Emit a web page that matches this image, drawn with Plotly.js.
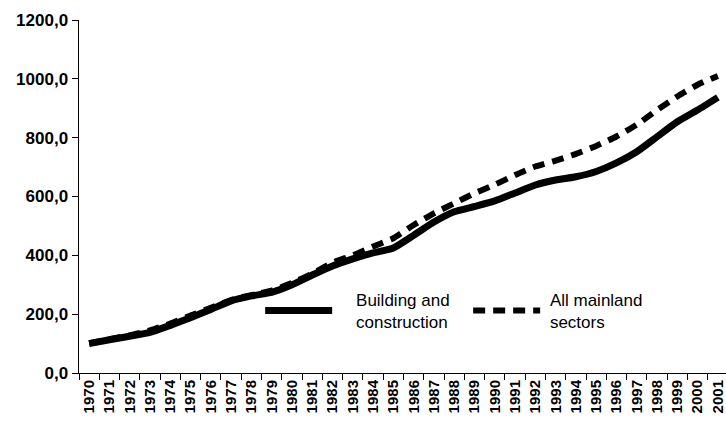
<!DOCTYPE html>
<html>
<head>
<meta charset="utf-8">
<script src="https://cdn.plot.ly/plotly-3.0.1.min.js"></script>
<style>html,body{margin:0;padding:0;background:#fff;}#chart{width:726px;height:423px;}</style>
</head>
<body>
<div id="chart"></div>
<script>
var years = ["1970","1971","1972","1973","1974","1975","1976","1977","1978","1979","1980","1981","1982","1983","1984","1985","1986","1987","1988","1989","1990","1991","1992","1993","1994","1995","1996","1997","1998","1999","2000","2001"];
var building = [100,113,125,138,162,188,216,245,262,274,300,333,364,388,408,425,468,513,548,566,585,612,639,656,667,685,714,752,803,854,894,937];
var mainland = [101,115,128,145,168,195,222,248,265,280,306,338,375,400,430,458,503,543,577,611,640,673,702,722,745,772,804,844,894,940,980,1010];
var yTicks = [0,200,400,600,800,1000,1200];
var pad = '\u00a0\u00a0\u00a0\u00a0';
var pad2 = '\u00a0';

var traces = [
  {x: years, y: building, type: 'scatter', mode: 'lines', name: pad + 'Building and<br>' + pad + 'construction',
   line: {color: '#000', width: 7, shape: 'spline', smoothing: 0.5}},
  {x: years, y: mainland, type: 'scatter', mode: 'lines', name: pad2 + 'All mainland<br>' + pad2 + 'sectors',
   line: {color: '#000', width: 6, dash: '12px,8px', shape: 'spline', smoothing: 0.5}}
];

var layout = {
  width: 726, height: 423,
  margin: {l: 79, r: 0, t: 20, b: 50},
  paper_bgcolor: '#fff', plot_bgcolor: '#fff',
  separators: ',.',
  font: {family: 'Liberation Sans, Arial, sans-serif', color: '#000', size: 17},
  showlegend: true,
  legend: {orientation: 'h', x: 0.28, xanchor: 'left', y: 0.176, yanchor: 'middle',
           itemwidth: 67, entrywidth: 126, entrywidthmode: 'pixels',
           font: {size: 17, family: 'Liberation Sans, Arial, sans-serif'}, bgcolor: 'rgba(0,0,0,0)'},
  xaxis: {type: 'category', range: [-0.5, 31.4], tickangle: -90, tickson: 'boundaries',
          ticks: 'outside', ticklen: 6, tickcolor: '#000', showline: true, linecolor: '#000', linewidth: 1,
          showgrid: false, zeroline: false, automargin: false,
          tickfont: {size: 15, family: 'Liberation Sans, Arial, sans-serif', weight: 'bold'}},
  yaxis: {range: [0, 1200], tickvals: yTicks, tickformat: '.1f', ticks: 'outside', ticklen: 6,
          tickcolor: '#000', showline: true, linecolor: '#000', linewidth: 1.5, showgrid: false,
          zeroline: false, automargin: false,
          tickfont: {size: 17, family: 'Liberation Sans, Arial, sans-serif', weight: 'bold'}}
};

Plotly.newPlot('chart', traces, layout, {staticPlot: true, displayModeBar: false});
</script>
</body>
</html>
